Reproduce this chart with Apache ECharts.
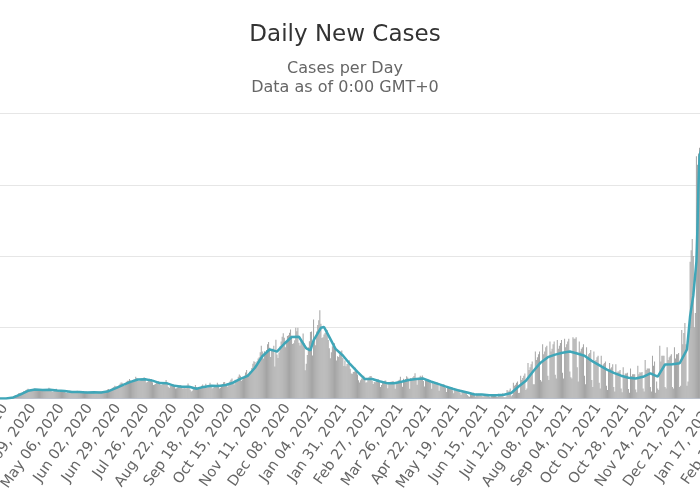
<!DOCTYPE html>
<html>
<head>
<meta charset="utf-8">
<script src="https://cdn.jsdelivr.net/npm/echarts@6/dist/echarts.min.js"></script>
<style>
html, body { margin: 0; padding: 0; background: #fff; }
#main { width: 700px; height: 500px; }
</style>
</head>
<body>
<div id="main"></div>
<script>
// daily new cases in thousands, one row per week (Sun..Sat), first day Mar 01, 2020
const dailyStart = "Mar 01, 2020";
const dailyCases = [
    0, 0, 0.1, 0.1, 0.1, 0.1, 0.1,
    0.1, 0.2, 0.3, 0.4, 0.5, 0.7, 0.8,
    0.9, 1.5, 2.0, 3.5, 5.0, 6.5, 7.5,
    9.5, 11, 11, 14, 18, 19, 20,
    20, 22, 26, 26, 30, 32, 34,
    27, 30, 31, 33, 33, 35, 30,
    28, 26, 28, 30, 32, 33, 30,
    27, 28, 26, 29, 31, 38, 34,
    27, 24, 25, 27, 30, 34, 29,
    26, 24, 24, 25, 29, 28, 26,
    21, 19, 22, 21, 27, 26, 25,
    20, 22, 21, 21, 27, 25, 23,
    19, 20, 19, 19, 22, 24, 25,
    21, 22, 21, 20, 21, 24, 23,
    18, 18, 18, 21, 23, 25, 25,
    20, 19, 23, 25, 27, 32, 33,
    27, 29, 34, 38, 40, 45, 43,
    41, 41, 46, 52, 56, 55, 46,
    45, 50, 59, 62, 62, 68, 63,
    60, 62, 66, 67, 76, 72, 64,
    61, 62, 67, 70, 71, 75, 66,
    56, 58, 63, 69, 68, 68, 57,
    47, 49, 52, 55, 58, 61, 56,
    47, 48, 53, 54, 53, 65, 52,
    41, 37, 44, 48, 46, 49, 46,
    35, 36, 39, 43, 46, 47, 43,
    35, 36, 41, 35, 45, 53, 42,
    31, 25, 27, 34, 36, 47, 40,
    35, 35, 39, 40, 45, 49, 42,
    37, 52, 39, 39, 45, 55, 46,
    35, 37, 43, 40, 46, 55, 49,
    35, 38, 44, 50, 57, 58, 50,
    46, 41, 51, 60, 66, 70, 54,
    49, 66, 62, 63, 76, 84, 80,
    62, 67, 74, 80, 91, 100, 84,
    80, 94, 93, 107, 122, 131, 128,
    110, 131, 140, 145, 162, 185, 165,
    140, 166, 162, 170, 190, 198, 178,
    146, 174, 175, 185, 112, 206, 154,
    142, 161, 183, 200, 217, 229, 213,
    180, 196, 219, 222, 231, 242, 220,
    191, 194, 204, 248, 236, 248, 196,
    186, 205, 196, 228, 194, 99, 122,
    153, 180, 201, 233, 235, 151, 277,
    // Jan 03, 2021
    209, 187, 235, 258, 275, 310, 262,
    212, 215, 225, 230, 235, 240, 205,
    176, 141, 162, 183, 192, 194, 171,
    133, 148, 146, 155, 165, 168, 142,
    114, 133, 113, 121, 123, 134, 104,
    88, 87, 93, 95, 108, 99, 84,
    64, 56, 64, 70, 70, 80, 73,
    56, 57, 72, 75, 79, 79, 61,
    51, 58, 57, 67, 67, 67, 57,
    40, 47, 57, 58, 62, 63, 50,
    36, 53, 54, 59, 60, 61, 50,
    34, 55, 55, 63, 66, 76, 61,
    41, 69, 61, 68, 78, 74, 62,
    34, 72, 63, 75, 79, 89, 66,
    48, 69, 74, 80, 76, 81, 61,
    42, 64, 62, 64, 66, 65, 54,
    34, 55, 51, 58, 56, 57, 47,
    27, 45, 45, 45, 50, 48, 38,
    23, 39, 37, 36, 37, 40, 29,
    18, 31, 27, 28, 30, 33, 21,
    13, 27, 22, 25, 25, 25, 12,
    8, 6, 20, 15, 18, 20, 11,
    7, 17, 15, 17, 15, 17, 9,
    6, 15, 12, 14, 15, 12, 6,
    4, 15, 11, 13, 14, 16, 6,
    5, 17, 14, 15, 16, 19, 5,
    // Jul 04, 2021
    4, 6, 30, 25, 28, 35, 8,
    12, 55, 45, 48, 55, 60, 19,
    20, 80, 65, 72, 80, 88, 30,
    35, 125, 100, 110, 120, 130, 50,
    50, 165, 135, 145, 155, 165, 65,
    60, 190, 155, 165, 180, 185, 80,
    65, 200, 165, 175, 190, 200, 83,
    70, 205, 175, 185, 195, 205, 90,
    70, 210, 180, 190, 200, 210, 95,
    75, 70, 215, 210, 210, 215, 110,
    60, 200, 165, 175, 180, 190, 80,
    50, 180, 145, 155, 160, 170, 65,
    40, 165, 130, 135, 145, 150, 55,
    35, 150, 110, 120, 125, 130, 45,
    30, 100, 125, 105, 110, 120, 40,
    25, 120, 90, 95, 95, 100, 35,
    22, 110, 80, 88, 88, 90, 33,
    20, 105, 78, 85, 85, 85, 32,
    22, 115, 85, 92, 90, 93, 35,
    25, 135, 100, 105, 105, 105, 40,
    25, 150, 115, 130, 20, 60, 35,
    30, 185, 130, 150, 150, 150, 40,
    35, 180, 135, 145, 150, 155, 40,
    35, 180, 140, 155, 155, 160, 40,
    45, 240, 190, 230, 265, 190, 45,
    60, 250, 480, 520, 560, 500, 250,
    // Jan 02, 2022
    300, 850, 820, 860, 880, 900, 400
];

// 7-day moving average, thousands
const movingAvg = [
    ["Feb 29, 2020", 0], ["Mar 07, 2020", 0.1], ["Mar 14, 2020", 0.4], ["Mar 21, 2020", 3.8],
    ["Mar 28, 2020", 14.6], ["Apr 04, 2020", 27.1], ["Apr 11, 2020", 31.3], ["Apr 18, 2020", 29.6],
    ["Apr 25, 2020", 30.4], ["May 02, 2020", 28], ["May 09, 2020", 26], ["May 16, 2020", 23],
    ["May 23, 2020", 22.7], ["May 30, 2020", 21.1], ["Jun 06, 2020", 21.7], ["Jun 13, 2020", 21.1],
    ["Jun 20, 2020", 25.6], ["Jun 27, 2020", 36.6], ["Jul 04, 2020", 48.1], ["Jul 11, 2020", 58.4],
    ["Jul 18, 2020", 66.7], ["Jul 25, 2020", 67.4], ["Aug 01, 2020", 62.7], ["Aug 08, 2020", 54],
    ["Aug 15, 2020", 53.1], ["Aug 22, 2020", 44.4], ["Aug 29, 2020", 41.3], ["Sep 05, 2020", 41],
    ["Sep 12, 2020", 34.3], ["Sep 19, 2020", 40.7], ["Sep 26, 2020", 44.7], ["Oct 03, 2020", 43.6],
    ["Oct 10, 2020", 47.4], ["Oct 17, 2020", 55.4], ["Oct 24, 2020", 68.6], ["Oct 31, 2020", 79.7],
    ["Nov 07, 2020", 107.9], ["Nov 14, 2020", 148.3], ["Nov 21, 2020", 172], ["Nov 26, 2020", 167],
    ["Nov 28, 2020", 164.6], ["Dec 05, 2020", 192.1], ["Dec 12, 2020", 215.7], ["Dec 19, 2020", 216.7],
    ["Dec 26, 2020", 175.7], ["Dec 30, 2020", 169], ["Jan 02, 2021", 204.3], ["Jan 09, 2021", 248],
    ["Jan 12, 2021", 251], ["Jan 16, 2021", 223.1], ["Jan 23, 2021", 174.1], ["Jan 30, 2021", 151],
    ["Feb 06, 2021", 120.3], ["Feb 13, 2021", 93.4], ["Feb 20, 2021", 68.1], ["Feb 27, 2021", 68.4],
    ["Mar 06, 2021", 60.6], ["Mar 13, 2021", 53.9], ["Mar 20, 2021", 53.3], ["Mar 27, 2021", 58.6],
    ["Apr 03, 2021", 64.7], ["Apr 10, 2021", 68.3], ["Apr 17, 2021", 69.9], ["Apr 24, 2021", 59.6],
    ["May 01, 2021", 51.1], ["May 08, 2021", 42.6], ["May 15, 2021", 34.4], ["May 22, 2021", 26.9],
    ["May 29, 2021", 21.3], ["Jun 05, 2021", 14], ["Jun 12, 2021", 13.9], ["Jun 19, 2021", 11.4],
    ["Jun 26, 2021", 11.3], ["Jul 03, 2021", 13], ["Jul 10, 2021", 19.4], ["Jul 17, 2021", 42],
    ["Jul 24, 2021", 62.1], ["Jul 31, 2021", 95.7], ["Aug 07, 2021", 125.7], ["Aug 14, 2021", 145],
    ["Aug 21, 2021", 154], ["Aug 28, 2021", 160.7], ["Sep 04, 2021", 165], ["Sep 11, 2021", 157.9],
    ["Sep 18, 2021", 150], ["Sep 25, 2021", 132.1], ["Oct 02, 2021", 117.1], ["Oct 09, 2021", 102.1],
    ["Oct 16, 2021", 90], ["Oct 23, 2021", 80], ["Oct 30, 2021", 73], ["Nov 06, 2021", 70],
    ["Nov 13, 2021", 76], ["Nov 20, 2021", 87.9], ["Nov 27, 2021", 76.4], ["Dec 04, 2021", 119.3],
    ["Dec 11, 2021", 120], ["Dec 18, 2021", 123.6], ["Dec 22, 2021", 151], ["Dec 25, 2021", 172.1],
    ["Dec 28, 2021", 290], ["Dec 31, 2021", 360], ["Jan 02, 2022", 440], ["Jan 03, 2022", 480],
    ["Jan 04, 2022", 600], ["Jan 05, 2022", 750], ["Jan 06, 2022", 850], ["Jan 08, 2022", 880]
];

// x axis labels, one every 27 days
const tickLabels = [
    "Feb 15, 2020", "Mar 13, 2020", "Apr 09, 2020", "May 06, 2020", "Jun 02, 2020", "Jun 29, 2020",
    "Jul 26, 2020", "Aug 22, 2020", "Sep 18, 2020", "Oct 15, 2020", "Nov 11, 2020", "Dec 08, 2020",
    "Jan 04, 2021", "Jan 31, 2021", "Feb 27, 2021", "Mar 26, 2021", "Apr 22, 2021", "May 19, 2021",
    "Jun 15, 2021", "Jul 12, 2021", "Aug 08, 2021", "Sep 04, 2021", "Oct 01, 2021", "Oct 28, 2021",
    "Nov 24, 2021", "Dec 21, 2021", "Jan 17, 2022", "Feb 13, 2022"
];
const yTicks = [0, 250, 500, 750, 1000];

const months = ["Jan", "Feb", "Mar", "Apr", "May", "Jun", "Jul", "Aug", "Sep", "Oct", "Nov", "Dec"];
function fmtDate(d) {
    return months[d.getUTCMonth()] + " " + String(d.getUTCDate()).padStart(2, "0") + ", " + d.getUTCFullYear();
}
// one category per day, Feb 15, 2020 .. Feb 13, 2022
const categories = [];
for (let i = 0; i < 730; i++) {
    categories.push(fmtDate(new Date(Date.UTC(2020, 1, 15 + i))));
}
const offset = categories.indexOf(dailyStart);
const barData = categories.map((c, i) => {
    const v = dailyCases[i - offset];
    return v === undefined ? "-" : v;
});

// the picture is a crop: the plot runs past both edges
const dayWidth = 1.046;
const plotLeft = 5 - 27.5 * dayWidth;

const myChart = echarts.init(document.getElementById("main"));
const font = "DejaVu Sans";
let option = {
    animation: false,
    title: [{
            text: "Daily New Cases",
            left: 345,
            top: 24,
            textAlign: "center",
            padding: 0,
            textStyle: { fontFamily: font, fontSize: 23, lineHeight: 23, fontWeight: "normal", color: "#333" },
        },
        {
            text: "Cases per Day",
            left: 345,
            top: 61,
            textAlign: "center",
            padding: 0,
            textStyle: { fontFamily: font, fontSize: 16, lineHeight: 16, fontWeight: "normal", color: "#666" },
        },
        {
            text: "Data as of 0:00 GMT+0",
            left: 345,
            top: 80,
            textAlign: "center",
            padding: 0,
            textStyle: { fontFamily: font, fontSize: 16, lineHeight: 16, fontWeight: "normal", color: "#666" },
        },
    ],
    grid: {
        left: plotLeft,
        width: categories.length * dayWidth,
        top: 113.5,
        height: 285,
        containLabel: false,
        outerBoundsMode: "none",
    },
    xAxis: {
        type: "category",
        data: categories,
        boundaryGap: true,
        axisLine: { lineStyle: { color: "#ccd6eb" } },
        axisTick: { show: false },
        axisLabel: {
            interval: (i, v) => tickLabels.includes(v),
            rotate: 55,
            margin: 7,
            fontFamily: font,
            fontSize: 14.5,
            color: "#666",
        },
    },
    yAxis: {
        type: "value",
        min: yTicks[0],
        max: yTicks[yTicks.length - 1],
        interval: yTicks[1] - yTicks[0],
        axisLabel: { show: false },
        axisLine: { show: false },
        axisTick: { show: false },
        splitLine: { lineStyle: { color: "#e6e6e6" } },
    },
    series: [{
            name: "Daily Cases",
            type: "bar",
            data: barData,
            barWidth: 1,
            itemStyle: { color: "#a4a4a4" },
        },
        {
            name: "7-day moving average",
            type: "line",
            data: movingAvg,
            showSymbol: false,
            symbol: "none",
            lineStyle: { color: "#3fa6b8", width: 2.5 },
        },
    ],
};
myChart.setOption(option);
</script>
</body>
</html>
